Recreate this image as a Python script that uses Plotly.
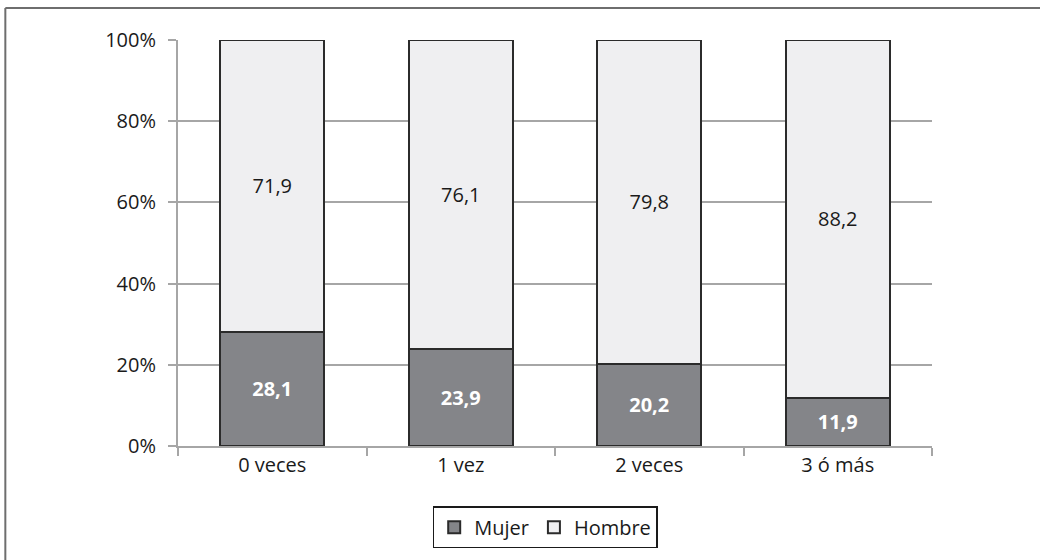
import plotly.graph_objects as go

categories = ["0 veces", "1 vez", "2 veces", "3 ó más"]
mujer = [28.1, 23.9, 20.2, 11.9]
hombre = [71.9, 76.1, 79.8, 88.2]
y_ticks = [0, 20, 40, 60, 80, 100]
y_ticktext = ["0%", "20%", "40%", "60%", "80%", "100%"]

def fmt(v):
    return f"{v:.1f}".replace(".", ",")

FONT = "Open Sans"
FS = 20

fig = go.Figure()
fig.add_trace(go.Bar(
    x=categories, y=mujer, name="Mujer",
    marker=dict(color="#848589", line=dict(color="#2b2b2b", width=2)),
    text=[fmt(v) for v in mujer], textposition="inside", insidetextanchor="middle",
    textfont=dict(color="white", size=FS, family=FONT, weight="bold"),
))
fig.add_trace(go.Bar(
    x=categories, y=hombre, name="Hombre",
    marker=dict(color="#efeff1", line=dict(color="#2b2b2b", width=2)),
    text=[fmt(v) for v in hombre], textposition="inside", insidetextanchor="middle",
    textfont=dict(color="#1a1a1a", size=FS, family=FONT),
))

fig.update_layout(
    width=1040, height=560,
    barmode="stack", bargap=0.45,
    plot_bgcolor="white", paper_bgcolor="white",
    margin=dict(l=178, r=108, t=40, b=114),
    font=dict(family=FONT, size=FS, color="#1a1a1a"),
    showlegend=True,
    legend=dict(orientation="h", x=0.487, xanchor="center", y=-0.2, yanchor="middle",
                bordercolor="#1a1a1a", borderwidth=1.5, font=dict(size=FS, family=FONT),
                traceorder="normal", itemwidth=30, tracegroupgap=0),
    uniformtext=dict(mode=False),
)
fig.update_yaxes(
    range=[0, 100], tickvals=y_ticks, ticktext=y_ticktext,
    tickfont=dict(size=FS, family=FONT),
    showgrid=True, gridcolor="#a6a6a6", gridwidth=2,
    showline=True, linecolor="#a6a6a6", linewidth=2,
    ticks="outside", ticklen=8, tickcolor="#a6a6a6", tickwidth=2,
    ticklabelstandoff=8,
    zeroline=False,
)
fig.update_xaxes(
    tickfont=dict(size=FS, family=FONT),
    showline=True, linecolor="#a6a6a6", linewidth=2,
    ticks="outside", ticklen=8, tickcolor="#a6a6a6", tickwidth=2,
    tickson="boundaries", showgrid=False,
)
# outer chart border (top and left)
fig.add_shape(type="line", xref="paper", yref="paper", x0=-0.229, x1=1.2, y0=1.079, y1=1.079,
              line=dict(color="#6e6e6e", width=2))
fig.add_shape(type="line", xref="paper", yref="paper", x0=-0.229, x1=-0.229, y0=1.079, y1=-0.3,
              line=dict(color="#6e6e6e", width=2))

fig.write_html("out.html", config={"displayModeBar": False},
               post_script="document.body.style.margin='0';document.body.style.overflow='hidden';")
